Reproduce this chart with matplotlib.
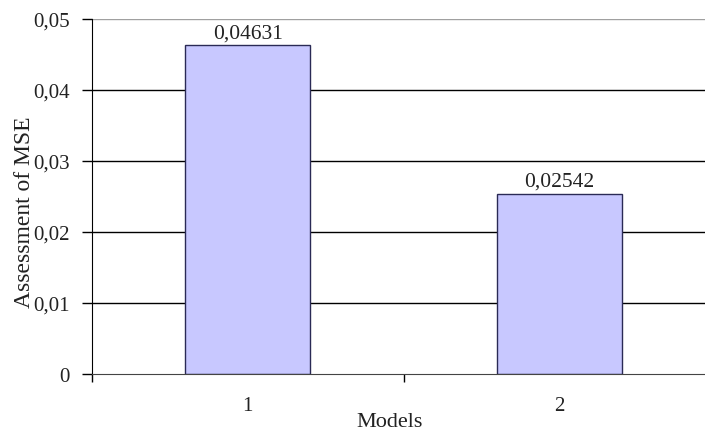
import numpy as np
import matplotlib
matplotlib.use('Agg')
import matplotlib.pyplot as plt

models = ['1', '2']
mse = [0.04631, 0.02542]
yticks = [0, 0.01, 0.02, 0.03, 0.04, 0.05]

plt.rcParams['font.family'] = ['Liberation Serif', 'DejaVu Serif']
txt = '#222222'

fig = plt.figure(figsize=(7.05, 4.31), dpi=100)
ax = fig.add_axes([92/705, 56/431, 623/705, 355/431])

x = np.arange(1, len(models) + 1)
ax.set_axisbelow(True)
for t in yticks[1:-1]:
    ax.axhline(t, color='black', lw=1.0, zorder=0)
ax.axhline(yticks[-1], color='#a0a0a0', lw=1.0, zorder=0)

bars = ax.bar(x, mse, 0.4, color='#c8c8ff', edgecolor='#2a2a55', lw=1.0, zorder=2)
for b, v in zip(bars, mse):
    ax.annotate(('%.5f' % v).replace('.', ','),
                (b.get_x() + b.get_width()/2, v), xytext=(0, 2),
                textcoords='offset points', ha='center', va='bottom',
                fontsize=15.5, color=txt)

ax.set_xlim(0.5, 2.5)
ax.set_ylim(0, 0.05)
ax.set_yticks(yticks)
ax.set_yticklabels([('%g' % t).replace('.', ',') for t in yticks])
ax.set_xticks([0.5, 1.5, 2.5])
ax.set_xticklabels([])
ax.set_xticks(x, minor=True)
ax.set_xticklabels(models, minor=True)
ax.tick_params(axis='x', which='minor', length=0, pad=16, labelsize=15, labelcolor=txt)
ax.tick_params(axis='x', which='major', length=6, width=1, direction='out')
ax.tick_params(axis='y', length=7, width=1, direction='out', pad=9, labelsize=15, labelcolor=txt)

for s in ['top', 'right']:
    ax.spines[s].set_visible(False)
ax.spines['left'].set_color('black')
ax.spines['bottom'].set_color('#444444')

ax.set_xlabel('Models', fontsize=16, color=txt)
ax.set_ylabel('Assessment of MSE', fontsize=17, color=txt)
ax.xaxis.set_label_coords(0.478, -0.108)
ax.yaxis.set_label_coords(-0.091, 0.459)

fig.savefig('out.png', dpi=100)
